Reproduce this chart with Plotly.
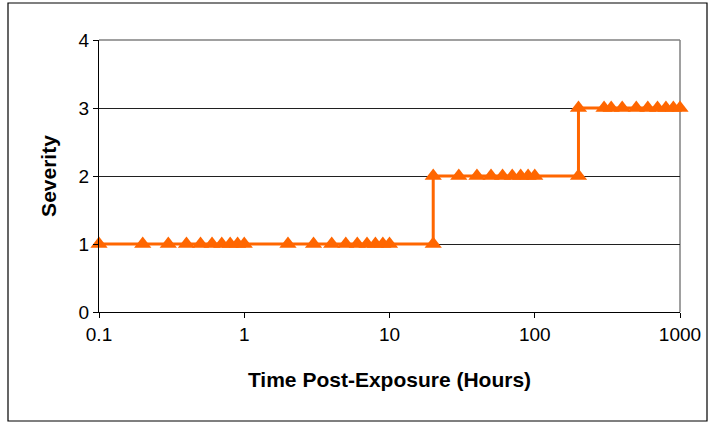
import plotly.graph_objects as go

# Data
hours = [0.1, 0.2, 0.3, 0.4, 0.5, 0.6, 0.7, 0.8, 0.9, 1.0,
         2, 3, 4, 5, 6, 7, 8, 9, 10,
         20, 20, 30, 40, 50, 60, 70, 80, 90, 100,
         200, 200, 300, 336, 400, 500, 600, 700, 800, 900, 1000]
severity = [1, 1, 1, 1, 1, 1, 1, 1, 1, 1,
            1, 1, 1, 1, 1, 1, 1, 1, 1,
            1, 2, 2, 2, 2, 2, 2, 2, 2, 2,
            2, 3, 3, 3, 3, 3, 3, 3, 3, 3, 3]
x_tick_vals = [0.1, 1, 10, 100, 1000]
x_tick_text = ["0.1", "1", "10", "100", "1000"]
y_tick_vals = [0, 1, 2, 3, 4]

W, H = 714, 423
ML, MR, MT, MB = 99, 34, 40, 111
PW, PH = W - ML - MR, H - MT - MB


def px_to_paper_x(px):
    return (px - ML) / PW


def px_to_paper_y(py):
    return (H - MB - py) / PH


ORANGE = "#FF6600"
FONT = "Liberation Sans, Arial, sans-serif"

fig = go.Figure()
fig.add_trace(go.Scatter(
    x=hours, y=severity, mode="lines+markers",
    line=dict(color=ORANGE, width=3),
    marker=dict(symbol="triangle-up", size=15, color=ORANGE),
    cliponaxis=False, showlegend=False,
))

fig.update_layout(
    width=W, height=H,
    margin=dict(l=ML, r=MR, t=MT, b=MB),
    paper_bgcolor="white", plot_bgcolor="white",
    font=dict(family=FONT, color="black", size=19),
    xaxis=dict(
        type="log", range=[-1, 3],
        tickvals=x_tick_vals, ticktext=x_tick_text,
        ticks="outside", ticklen=5, tickcolor="black", tickwidth=1,
        showline=True, linecolor="black", linewidth=1,
        showgrid=False, zeroline=False,
        tickfont=dict(size=19),
        title=dict(text="<b>Time Post-Exposure (Hours)</b>",
                   font=dict(size=21), standoff=28),
    ),
    yaxis=dict(
        range=[0, 4], tickvals=y_tick_vals,
        ticks="outside", ticklen=5, tickcolor="black", tickwidth=1,
        showline=True, linecolor="black", linewidth=1,
        showgrid=True, gridcolor="#202020", gridwidth=1,
        zeroline=False,
        tickfont=dict(size=19),
        title=dict(text="<b>Severity</b>", font=dict(size=21), standoff=16),
    ),
    shapes=[
        # plot area border (top and right, gray)
        dict(type="line", xref="paper", yref="paper", x0=0, x1=1, y0=1, y1=1,
             line=dict(color="#808080", width=1.5), layer="above"),
        dict(type="line", xref="paper", yref="paper", x0=1, x1=1, y0=0, y1=1,
             line=dict(color="#808080", width=1.5), layer="below"),
        # chart outer border
        dict(type="rect", xref="paper", yref="paper",
             x0=px_to_paper_x(8), x1=px_to_paper_x(707),
             y0=px_to_paper_y(421), y1=px_to_paper_y(3),
             line=dict(color="black", width=1.2), fillcolor="rgba(0,0,0,0)",
             layer="below"),
    ],
)

fig.write_html("out.html")
